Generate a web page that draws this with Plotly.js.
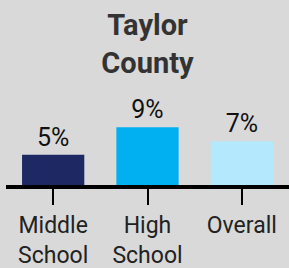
<!DOCTYPE html>
<html>
<head>
<meta charset="utf-8">
<script src="https://cdn.plot.ly/plotly-3.0.1.min.js"></script>
<style>
html,body{margin:0;padding:0;background:#d9d9d9;}
#chart{width:289px;height:268px;}
</style>
</head>
<body>
<div id="chart"></div>
<script>
const categories = ["Middle<br>School", "High<br>School", "Overall"];
const values = [4.9, 9.4, 7.1];
const labels = ["5%", "9%", "7%"];
const colors = ["#1e2963", "#00b0f0", "#b4e9fd"];
const titleText = "Taylor<br>County";

const trace = {
  type: "bar",
  x: categories,
  y: values,
  text: labels,
  textposition: "outside",
  cliponaxis: false,
  textfont: {family: "Roboto", size: 25, color: "#111"},
  marker: {color: colors},
  hoverinfo: "none"
};

const layout = {
  width: 289,
  height: 268,
  paper_bgcolor: "#d9d9d9",
  plot_bgcolor: "#d9d9d9",
  margin: {l: 6, r: 0, t: 95, b: 83},
  bargap: 0.34,
  showlegend: false,
  title: {
    text: titleText,
    font: {family: "Roboto", size: 29, color: "#333", weight: "bold"},
    x: 0.5, xref: "paper",
    y: 0.87, yref: "container", yanchor: "top"
  },
  xaxis: {
    showline: true, linecolor: "#000", linewidth: 4,
    ticks: "outside", ticklen: 16, tickwidth: 2, tickcolor: "#000",
    tickfont: {family: "Roboto", size: 23, color: "#222"},
    showgrid: false, zeroline: false, fixedrange: true
  },
  yaxis: {
    range: [0, 14.63], visible: false, showgrid: false, zeroline: false, fixedrange: true
  }
};

Plotly.newPlot("chart", [trace], layout, {displayModeBar: false, staticPlot: true});
</script>
</body>
</html>
